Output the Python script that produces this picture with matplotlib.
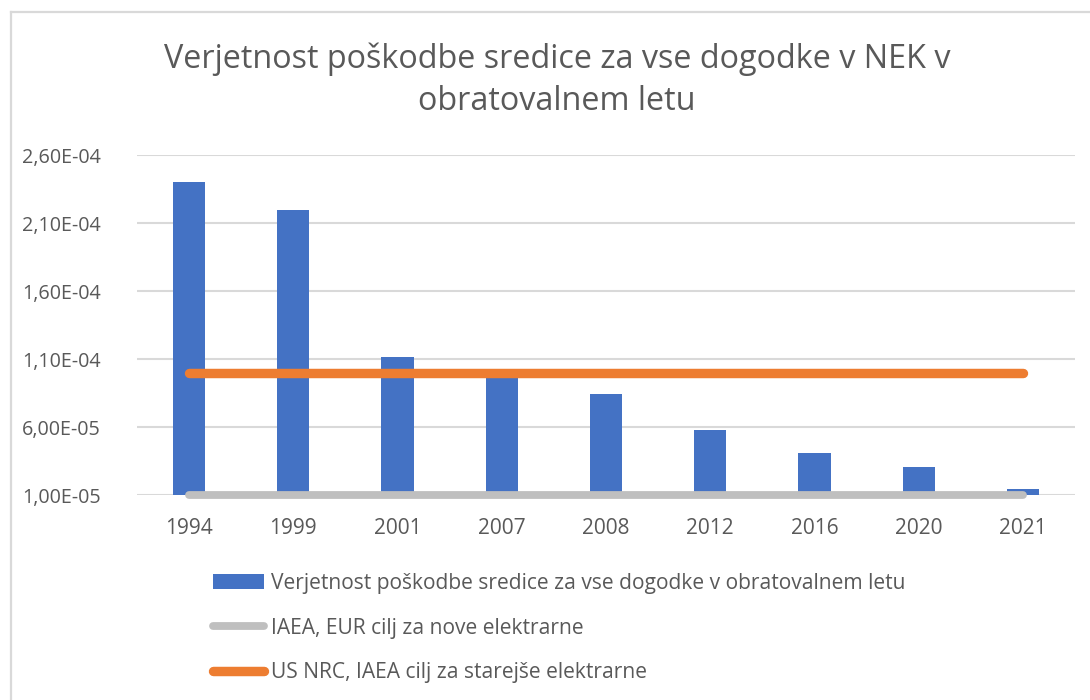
import matplotlib
matplotlib.use("Agg")
import matplotlib.pyplot as plt
from matplotlib.lines import Line2D
from matplotlib.ticker import FuncFormatter
import numpy as np

plt.rcParams['font.family'] = ['Open Sans', 'DejaVu Sans']

# ---- data ----
years = ["1994", "1999", "2001", "2007", "2008", "2012", "2016", "2020", "2021"]
cdf_values = [2.40e-4, 2.20e-4, 1.12e-4, 9.9e-5, 8.45e-5, 5.8e-5, 4.1e-5, 3.05e-5, 1.47e-5]
iaea_eur_target = [1.0e-5] * len(years)
usnrc_target = [1.0e-4] * len(years)

title = "Verjetnost poškodbe sredice za vse dogodke v NEK v\nobratovalnem letu"
label_bars = "Verjetnost poškodbe sredice za vse dogodke v obratovalnem letu"
label_grey = "IAEA, EUR cilj za nove elektrarne"
label_orange = "US NRC, IAEA cilj za starejše elektrarne"

y_ticks = [1.0e-5, 6.0e-5, 1.1e-4, 1.6e-4, 2.1e-4, 2.6e-4]

# ---- styling ----
BLUE = "#4472C4"
ORANGE = "#ED7D31"
GREY = "#BFBFBF"
GRID = "#D9D9D9"
TEXT = "#595959"

W, H = 1090, 700
fig = plt.figure(figsize=(W / 100, H / 100), dpi=100)
fig.patch.set_facecolor("white")

left, right, top, bottom = 137, 1075, 155.3, 495.3
ax = fig.add_axes([left / W, 1 - bottom / H, (right - left) / W, (bottom - top) / H])

x = np.arange(len(years))
bars = ax.bar(x, cdf_values, width=0.31, color=BLUE, zorder=2, label=label_bars)
grey_line, = ax.plot(x, iaea_eur_target, color=GREY, lw=5.6, solid_capstyle="round",
                     zorder=3, clip_on=False, label=label_grey)
orange_line, = ax.plot(x, usnrc_target, color=ORANGE, lw=6.8, solid_capstyle="round",
                       zorder=3, clip_on=False, label=label_orange)

ax.set_xlim(-0.5, len(years) - 0.5)
ax.set_ylim(y_ticks[0], y_ticks[-1])
ax.set_yticks(y_ticks)
ax.yaxis.set_major_formatter(FuncFormatter(lambda v, p: f"{v:.2E}".replace(".", ",")))
ax.set_xticks(x)
ax.set_xticklabels(years)

ax.grid(axis="y", color=GRID, lw=1.5, zorder=0)
ax.set_axisbelow(True)
for s in ax.spines.values():
    s.set_visible(False)
ax.tick_params(axis="both", length=0, colors=TEXT)
ax.tick_params(axis="x", pad=16, labelsize=15)
ax.tick_params(axis="y", pad=26, labelsize=14.2)

# title
fig.text(557 / W, 1 - 42 / H, title, ha="center", va="top", fontsize=23.3,
         color=TEXT, linespacing=1.38)

# legend
leg = fig.legend(handles=[bars, grey_line, orange_line],
                 labels=[label_bars, label_grey, label_orange],
                 loc="upper left", bbox_to_anchor=(213 / W, 1 - 573 / H),
                 frameon=False, fontsize=15.1, labelcolor=TEXT,
                 handlelength=2.45, handleheight=0.7, handletextpad=0.3,
                 labelspacing=1.13, borderpad=0, borderaxespad=0)

# chart frame (top and left edges visible)
fig.add_artist(Line2D([10.5 / W, 10.5 / W], [0, 1 - 12 / H], transform=fig.transFigure,
                      color=GRID, lw=1.6))
fig.add_artist(Line2D([10.5 / W, 1], [1 - 12 / H, 1 - 12 / H], transform=fig.transFigure,
                      color=GRID, lw=1.6))

fig.savefig("out.png", dpi=100)
